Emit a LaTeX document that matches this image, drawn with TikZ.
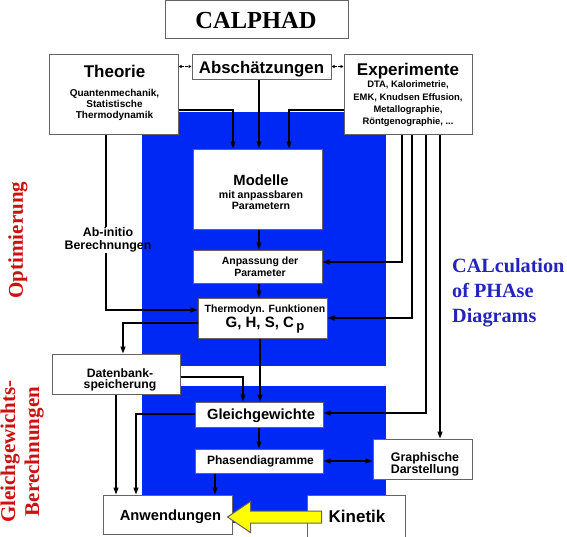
\documentclass[tikz,border=0pt]{standalone}
\usepackage{fontspec}
\setmainfont{Liberation Sans}
\newfontfamily\seriffam{Liberation Serif}
\usetikzlibrary{arrows.meta,calc}
\definecolor{bgblue}{RGB}{0,40,245}
\definecolor{txtblue}{RGB}{35,35,190}
\definecolor{txtred}{RGB}{204,17,17}
\definecolor{boxgray}{RGB}{100,100,100}
\definecolor{arrowyellow}{RGB}{255,255,0}
\newcommand\fsz[2]{{\fontsize{#1}{#1}\selectfont #2}}
\begin{document}
\begin{tikzpicture}[x=1pt,y=-1pt,
  box/.style={draw=boxgray,line width=1pt,fill=white,inner sep=0pt},
  txt/.style={inner sep=0pt,align=center},
  sz/.style 2 args={font=\bfseries\fontsize{#1}{#2}\selectfont},
  serifsz/.style 2 args={font=\seriffam\bfseries\fontsize{#1}{#2}\selectfont},
  conn/.style={draw=black,line width=1.2pt},
  arr/.style={conn,-{Triangle[length=7pt,width=5pt]}},
  darr/.style={conn,{Triangle[length=7pt,width=5pt]}-{Triangle[length=7pt,width=5pt]}},
  dashconn/.style={draw=black,line width=1pt,dash pattern=on 2.5pt off 1.5pt,{Triangle[length=3pt,width=3pt]}-{Triangle[length=3pt,width=3pt]}},
  yarrow/.style={fill=arrowyellow,draw=boxgray,line width=1pt}
]
\fill[white] (0,0) rectangle (567,536);
\useasboundingbox (0,0) rectangle (567,536);

% blue background regions
\fill[bgblue] (142,112) rectangle (386,366);
\fill[bgblue] (142,386) rectangle (386,523);

% boxes
\node[box,minimum width=183pt,minimum height=38pt] (calphad) at (256.5,19.8) {};
\node[box,minimum width=129pt,minimum height=80pt] (theorie) at (113.5,94) {};
\node[box,minimum width=139pt,minimum height=25pt] (absch) at (261.5,66.5) {};
\node[box,minimum width=128pt,minimum height=80pt] (exper) at (408,94) {};
\node[box,minimum width=129pt,minimum height=80pt] (modelle) at (257.5,189) {};
\node[box,minimum width=129pt,minimum height=33pt] (anpass) at (257.5,266.5) {};
\node[box,minimum width=129pt,minimum height=40pt] (thermo) at (262.5,318) {};
\node[box,minimum width=128pt,minimum height=40pt] (datenbank) at (116,374) {};
\node[box,minimum width=128pt,minimum height=25pt] (gleich) at (259,414.5) {};
\node[box,minimum width=128pt,minimum height=24pt] (phasen) at (259,461) {};
\node[box,minimum width=99pt,minimum height=40pt] (graph) at (422.5,459) {};
\node[box,minimum width=129pt,minimum height=39pt] (anwend) at (167.5,514.5) {};
\node[box,minimum width=98pt,minimum height=43pt] (kinetik) at (356,516.5) {};

% texts
\node[txt,anchor=base,serifsz={24.5}{28}] (calphadT) at (256,28.5) {CALPHAD};
\node[txt,sz={10}{11}] (theorieT) at (114.5,92.5) {\fsz{17}{Theorie}\\[8pt]Quantenmechanik,\\Statistische\\Thermodynamik};
\node[txt,anchor=base,sz={16.8}{20}] (abschT) at (261.5,73.5) {Absch\"atzungen};
\node[txt,sz={9.4}{12.2}] (experT) at (408,95) {\fsz{17}{Experimente}\\DTA, Kalorimetrie,\\EMK, Knudsen Effusion,\\Metallographie,\\R\"ontgenographie, ...};
\node[txt,sz={10.6}{11}] (modelleT) at (261,191.7) {\fsz{14.8}{Modelle}\\[2pt]mit anpassbaren\\Parametern};
\node[txt,sz={10.5}{12}] (anpassT) at (260,267.2) {Anpassung der\\Parameter};
\node[txt,sz={10.5}{15}] (thermoT) at (265,319) {Thermodyn. Funktionen\\\fsz{15}{G, H, S, C\,\raisebox{-2.5pt}{\fsz{13}{p}}}};
\node[txt,sz={12.2}{11.7}] (datenbankT) at (120,380) {Datenbank-\\speicherung};
\node[txt,anchor=base,sz={14.7}{17}] (gleichT) at (261,419.5) {Gleichgewichte};
\node[txt,anchor=base,sz={12}{14}] (phasenT) at (260.5,464) {Phasendiagramme};
\node[txt,sz={12.4}{11.8}] (graphT) at (425,464.3) {Graphische\\Darstellung};
\node[txt,anchor=base,sz={14.7}{17}] (anwendT) at (170.5,520.5) {Anwendungen};
\node[txt,anchor=base,sz={17}{20}] (kinetikT) at (357,522) {Kinetik};
\node[txt,inner sep=1pt,sz={12.4}{12.6}] (lbl) at (108,240) {Ab-initio\\Berechnungen};

\node[txt,rotate=90,anchor=base,text=txtred,serifsz={21}{24}] (optT) at (23,240) {Optimierung};
\node[txt,rotate=90,text=txtred,serifsz={21}{24}] (ggbT) at (22.1,451.5) {Gleichgewichts-\\Berechnungen};
\node[txt,anchor=west,align=left,text=txtblue,serifsz={20.2}{25}] (calcT) at (452,293.2) {CALculation\\of PHAse\\Diagrams};

% connectors
\draw[arr] (theorie.east |- 0,110) -| (modelle.north -| 233,0);
\draw[arr] (absch.south -| 259,0) -- (modelle.north -| 259,0);
\draw[arr] (exper.west |- 0,110) -| (modelle.north -| 289,0);
\draw[arr] (modelle.south -| 259,0) -- (anpass.north -| 259,0);
\draw[arr] (anpass.south -| 259,0) -- (thermo.north -| 259,0);
\draw[arr] (exper.south -| 402,0) |- (anpass.east |- 0,262);
\draw[arr] (exper.south -| 412,0) |- (thermo.east |- 0,318);
\draw[arr] (exper.south -| 426,0) |- (gleich.east |- 0,413);
\draw[arr] (exper.south -| 440,0) -- (graph.north -| 440,0);
\draw[conn] (theorie.south -| 106,0) -- (lbl.north -| 106,0);
\draw[arr] (lbl.south -| 106,0) |- (thermo.west |- 0,310);
\draw[arr] (thermo.west |- 0,323) -| (datenbank.north -| 123,0);
\draw[arr] (thermo.south -| 260,0) -- (gleich.north -| 260,0);
\draw[arr] (datenbank.east |- 0,377) -| (gleich.north -| 243,0);
\draw[arr] (datenbank.south -| 116,0) -- (anwend.north -| 116,0);
\draw[arr] (gleich.west |- 0,414) -| (anwend.north -| 136,0);
\draw[arr] (gleich.south -| 259,0) -- (phasen.north -| 259,0);
\draw[arr] (phasen.south -| 215,0) -- (anwend.north -| 215,0);
\draw[darr] (phasen.east) -- (graph.west |- phasen.east);
\draw[dashconn] (theorie.east |- absch.west) -- (absch.west);
\draw[dashconn] (absch.east) -- (exper.west |- absch.east);

% yellow block arrow Kinetik -> Anwendungen
\coordinate (ytip) at ($(anwend.east)+(-5,2.5)$);
\coordinate (ytail) at ($(kinetik.west)+(15,0.5)$);
\filldraw[yarrow] ($(ytail)+(0,-6)$) -- ($(ytip)+(23,-6)$) -- ($(ytip)+(23,-15.5)$) -- (ytip)
  -- ($(ytip)+(23,15.5)$) -- ($(ytip)+(23,6)$) -- ($(ytail)+(0,6)$) -- cycle;
\end{tikzpicture}
\end{document}
